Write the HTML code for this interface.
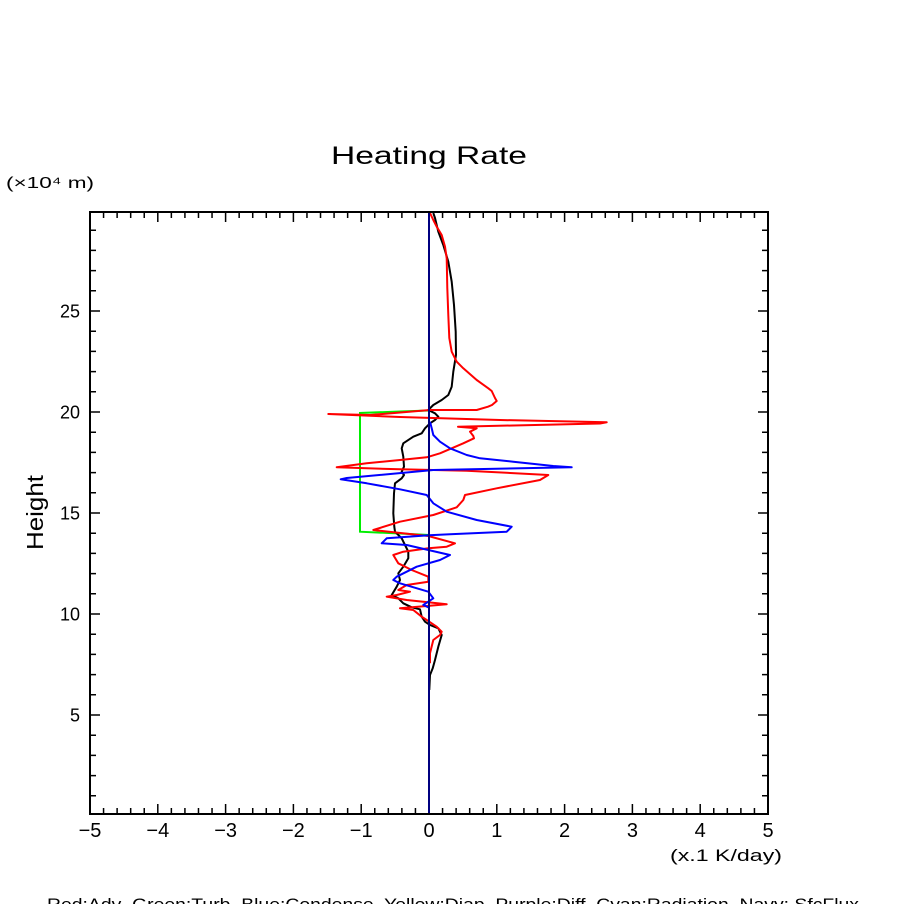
<!DOCTYPE html>
<html><head><meta charset="utf-8"><style>
html,body{margin:0;padding:0;background:#fff;}
svg{display:block;}
text{font-family:"Liberation Sans",sans-serif;fill:#000;}
</style></head><body>
<svg width="904" height="904" viewBox="0 0 904 904" xmlns="http://www.w3.org/2000/svg">
<rect width="904" height="904" fill="#fff"/>
<text x="331" y="164" font-size="25" textLength="196" lengthAdjust="spacingAndGlyphs">Heating Rate</text>
<text x="6" y="188" font-size="16" textLength="88" lengthAdjust="spacingAndGlyphs">(×10⁴ m)</text>
<text x="670" y="861" font-size="17" textLength="112" lengthAdjust="spacingAndGlyphs">(x.1 K/day)</text>
<text transform="translate(43,550) rotate(-90)" x="0" y="0" font-size="23" textLength="75" lengthAdjust="spacingAndGlyphs">Height</text>
<text x="47" y="910" font-size="17" textLength="812" lengthAdjust="spacingAndGlyphs" xml:space="preserve">Red:Adv  Green:Turb  Blue:Condense  Yellow:Diap  Purple:Diff  Cyan:Radiation  Navy: SfcFlux</text>

<!-- x tick labels -->
<g font-size="20" text-anchor="middle">
<text x="90" y="837">−5</text>
<text x="157.8" y="837">−4</text>
<text x="225.6" y="837">−3</text>
<text x="293.4" y="837">−2</text>
<text x="361.2" y="837">−1</text>
<text x="429" y="837">0</text>
<text x="496.8" y="837">1</text>
<text x="564.6" y="837">2</text>
<text x="632.4" y="837">3</text>
<text x="700.2" y="837">4</text>
<text x="768" y="837">5</text>
</g>
<!-- y tick labels -->
<g font-size="18" text-anchor="end">
<text x="80" y="721.5">5</text>
<text x="80" y="620.5">10</text>
<text x="80" y="519.5">15</text>
<text x="80" y="418.5">20</text>
<text x="80" y="317.5">25</text>
</g>

<!-- ticks -->
<path fill="none" stroke="#000" stroke-width="1.5" d="
M103.56 814v-6M117.12 814v-6M130.68 814v-6M144.24 814v-6M157.8 814v-10M171.36 814v-6M184.92 814v-6M198.48 814v-6M212.04 814v-6M225.6 814v-10
M239.16 814v-6M252.72 814v-6M266.28 814v-6M279.84 814v-6M293.4 814v-10M306.96 814v-6M320.52 814v-6M334.08 814v-6M347.64 814v-6M361.2 814v-10
M374.76 814v-6M388.32 814v-6M401.88 814v-6M415.44 814v-6M429 814v-10M442.56 814v-6M456.12 814v-6M469.68 814v-6M483.24 814v-6M496.8 814v-10
M510.36 814v-6M523.92 814v-6M537.48 814v-6M551.04 814v-6M564.6 814v-10M578.16 814v-6M591.72 814v-6M605.28 814v-6M618.84 814v-6M632.4 814v-10
M645.96 814v-6M659.52 814v-6M673.08 814v-6M686.64 814v-6M700.2 814v-10M713.76 814v-6M727.32 814v-6M740.88 814v-6M754.44 814v-6
M103.56 212v6M117.12 212v6M130.68 212v6M144.24 212v6M157.8 212v10M171.36 212v6M184.92 212v6M198.48 212v6M212.04 212v6M225.6 212v10
M239.16 212v6M252.72 212v6M266.28 212v6M279.84 212v6M293.4 212v10M306.96 212v6M320.52 212v6M334.08 212v6M347.64 212v6M361.2 212v10
M374.76 212v6M388.32 212v6M401.88 212v6M415.44 212v6M429 212v10M442.56 212v6M456.12 212v6M469.68 212v6M483.24 212v6M496.8 212v10
M510.36 212v6M523.92 212v6M537.48 212v6M551.04 212v6M564.6 212v10M578.16 212v6M591.72 212v6M605.28 212v6M618.84 212v6M632.4 212v10
M645.96 212v6M659.52 212v6M673.08 212v6M686.64 212v6M700.2 212v10M713.76 212v6M727.32 212v6M740.88 212v6M754.44 212v6
M90 795.8h6M90 775.6h6M90 755.4h6M90 735.2h6M90 715h10M90 694.8h6M90 674.6h6M90 654.4h6M90 634.2h6M90 614h10
M90 593.8h6M90 573.6h6M90 553.4h6M90 533.2h6M90 513h10M90 492.8h6M90 472.6h6M90 452.4h6M90 432.2h6M90 412h10
M90 391.8h6M90 371.6h6M90 351.4h6M90 331.2h6M90 311h10M90 290.8h6M90 270.6h6M90 250.4h6M90 230.2h6
M768 795.8h-6M768 775.6h-6M768 755.4h-6M768 735.2h-6M768 715h-10M768 694.8h-6M768 674.6h-6M768 654.4h-6M768 634.2h-6M768 614h-10
M768 593.8h-6M768 573.6h-6M768 553.4h-6M768 533.2h-6M768 513h-10M768 492.8h-6M768 472.6h-6M768 452.4h-6M768 432.2h-6M768 412h-10
M768 391.8h-6M768 371.6h-6M768 351.4h-6M768 331.2h-6M768 311h-10M768 290.8h-6M768 270.6h-6M768 250.4h-6M768 230.2h-6
"/>

<!-- green -->
<polyline fill="none" stroke="#00ee00" stroke-width="2" points="429,410.5 400,411.5 360,413 360,531.7 400,533.5 429,535"/>

<!-- black -->
<polyline fill="none" stroke="#000" stroke-width="2" stroke-linejoin="round" points="433.3,213 435,218 438.3,231.7 443.3,245 448.3,261.7 451.7,281.7 454,305 455.7,331.7 456,355 453.3,371.7 451.7,386.7 448.3,395 441.7,400 433.3,405 428.3,410 435,413.3 438.3,416.7 435,420 430,423.3 425,428.3 421.7,433.3 413.3,436.7 403.3,443.3 401.7,448.3 403.3,456.7 404,466.7 401.7,471.7 404,475 401.7,478.3 395,483.3 394,493.3 393.3,513.3 394.3,526.7 395,531.7 401.7,538.3 405,545 408.3,551.7 408.3,558.3 403.3,566.7 398.3,573.3 400,580 396.7,586.7 391.7,595 398.3,598.3 403.3,603.3 411.7,607.3 420,609.3 421.7,616.7 425,621.7 430,625 438.3,628.3 441.7,635 438.3,646.7 435,660 432.7,668.3 430,675 429.3,690"/>

<!-- red -->
<polyline fill="none" stroke="#ff0000" stroke-width="2" stroke-linejoin="round" points="430,213 433.3,220 436.7,226.7 441.7,235 445,246.7 446.7,258.3 447.3,288 448.3,315 449.3,338 451.7,351.7 456.7,361.7 463.3,368.3 476.7,380 488.3,388.3 491.7,391 495,398 496.7,401 492,405 488,406.7 476.7,410 430,410 370,415 328.3,414 400,417 500,420 606.7,422.3 600,423.5 458,426.7 476.7,428.3 470,431.7 473.3,436 474,438.3 463.3,443.3 440,453.3 426.7,457.3 400,460 366.7,463.3 336.7,467.3 400,469.3 466.7,470.7 548.3,475 540,480 496.7,488.3 465,495 463.3,500 456.7,507.3 433.3,515 400,521.7 373.3,530 428.3,536 455,543.3 446.7,546.7 428.3,548.3 403.3,551.7 393.3,555 398.3,563.3 411.7,570 428.3,576.7 428.3,581.7 406.7,585 398.3,590 410,591.7 396.7,595 386.7,596.7 406.7,600 423.3,601.7 446.7,604.3 426.7,606 400,608.3 413.3,610 421.7,616.7 426.7,620 436.7,626.7 441.7,631.7 440,635 433.3,640 430,653.3 430,663.3"/>

<!-- blue -->
<polyline fill="none" stroke="#0000ff" stroke-width="2" stroke-linejoin="round" points="430,421.7 431.7,428.3 433.3,435 440,441.7 450,448.3 466.7,455 480,458.3 513.3,461.7 553.3,466 571.7,467.3 433.3,470 346.7,478 340.7,479.3 366.7,483.3 400,489.3 426.7,495 433.3,503.3 446.7,511.7 476.7,520 511.7,526.7 506.7,531.7 450,534.3 429,535.3 386.7,538.3 381.7,543.3 406.7,545 450,555 440,560 416.7,566.7 396.7,576.7 393.3,580 400,583.3 428.3,591.7 433.3,598.3 426.7,602.7 423.3,605 428.3,607.3"/>

<!-- navy -->
<line x1="429" y1="212" x2="429" y2="814" stroke="#000080" stroke-width="2"/>

<!-- frame -->
<rect x="90" y="212" width="678" height="602" fill="none" stroke="#000" stroke-width="2"/>
</svg>
</body></html>
